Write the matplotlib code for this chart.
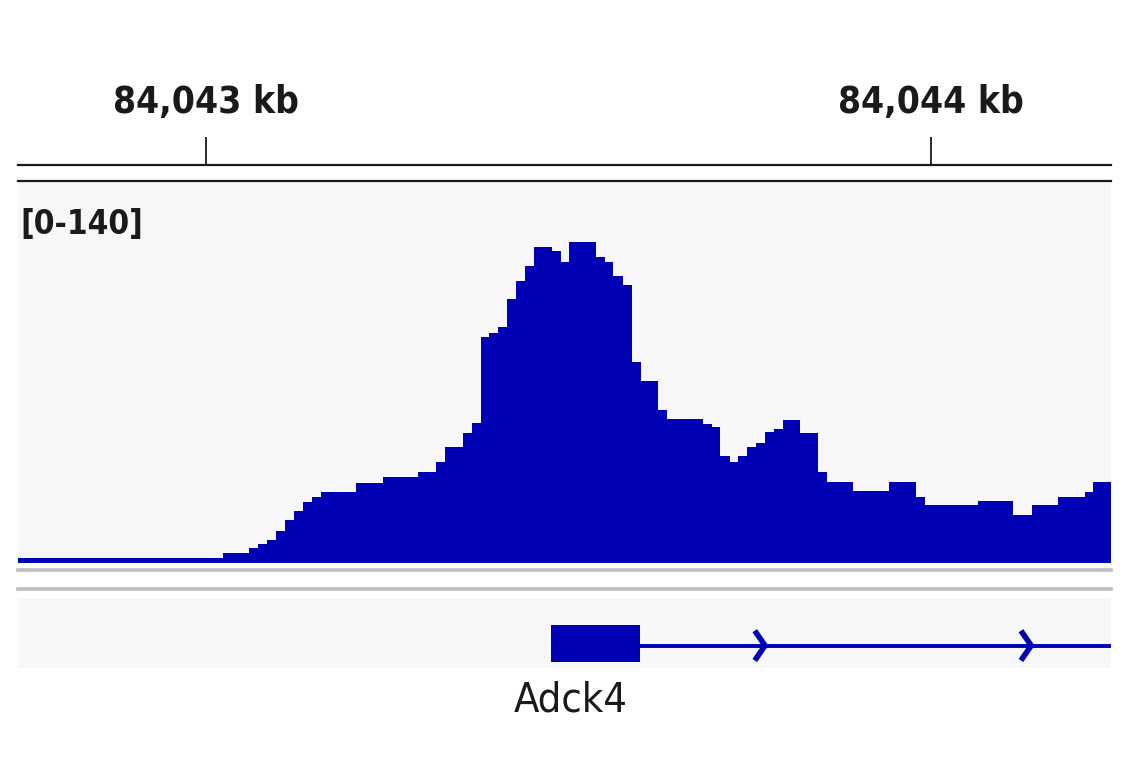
import matplotlib
matplotlib.use("Agg")
import matplotlib.pyplot as plt
from matplotlib import font_manager as fm
from matplotlib.lines import Line2D
from matplotlib.patches import Rectangle

# координаты в п.н. относительно 84,043 kb
view_start = -259
view_end = 1248

# границы бинов и значения сигнала (шкала [0-140])
bin_edges = [-259, 23, 59, 72, 84, 97, 109, 121, 134, 146, 159, 207, 244, 292,
             317, 330, 354, 367, 379, 390, 403, 415, 428, 440, 452, 477, 490,
             501, 538, 550, 561, 575, 588, 600, 623, 636, 686, 698, 709, 723,
             734, 746, 759, 771, 783, 796, 819, 844, 857, 892, 942, 979, 992,
             1065, 1113, 1139, 1175, 1212, 1223, 1248]
signal = [1.8, 3.7, 5.5, 7.0, 8.5, 11.8, 15.8, 19.1, 22.4, 24.3, 26.1, 29.4,
          31.6, 33.4, 36.8, 42.3, 47.4, 51.1, 82.7, 84.2, 86.4, 96.7, 103.3,
          108.8, 115.8, 114.3, 110.3, 117.6, 112.1, 110.3, 105.1, 101.8, 73.5,
          66.5, 55.9, 52.6, 50.7, 49.6, 39.0, 37.1, 39.0, 42.3, 44.1, 47.8,
          49.2, 52.2, 47.4, 33.4, 29.8, 26.5, 29.8, 24.3, 21.3, 22.8, 17.6,
          21.3, 24.3, 26.1, 29.8]
data_range = (0, 140)

ruler_ticks = [0, 1000]
ruler_labels = ["84,043 kb", "84,044 kb"]

gene_name = "Adck4"
exon = (476, 599)
gene_end = 5000
strand_arrows = [771, 1138]

blue = "#0000b4"
track_bg = "#f7f7f9"
ink = "#1a1a1a"
W, H = 1141, 768


# ищем узкий шрифт (в оригинале Helvetica Condensed), отдельно для жирного
def weight_num(w):
    return w if isinstance(w, (int, float)) else fm.weight_dict.get(str(w), 400)


narrow_fonts = {}
for f in fm.fontManager.ttflist:
    nm = f.name.lower()
    if 'narrow' in nm or 'condensed' in nm or str(f.stretch) in ('condensed', 'semi-condensed'):
        narrow_fonts.setdefault(f.name, set()).add(weight_num(f.weight))

bold_family = next((n for n, ws in narrow_fonts.items() if max(ws) >= 600), None)
regular_family = next((n for n, ws in narrow_fonts.items() if min(ws) <= 500), None)
bold_stretch = 'condensed' if bold_family else 'normal'
reg_stretch = 'condensed' if regular_family else 'normal'
bold_family = [bold_family or 'Liberation Sans', 'DejaVu Sans']
regular_family = [regular_family or 'Liberation Sans', 'DejaVu Sans']

fig = plt.figure(figsize=(W / 100, H / 100), dpi=100)
fig.patch.set_facecolor("white")
renderer = fig.canvas.get_renderer()


def box(top, bottom, left=18, right=1111):
    return [left / W, 1 - bottom / H, (right - left) / W, (bottom - top) / H]


def fit(t, width_px):
    # подгоняем размер шрифта под ширину надписи в оригинале
    w = t.get_window_extent(renderer).width
    t.set_fontsize(t.get_fontsize() * width_px / w)


# линейка
ax_r = fig.add_axes(box(60, 165))
ax_r.set_xlim(view_start, view_end)
ax_r.set_ylim(0, 1)
for s in ['top', 'left', 'right']:
    ax_r.spines[s].set_visible(False)
ax_r.spines['bottom'].set_linewidth(1.6)
ax_r.spines['bottom'].set_color(ink)
ax_r.set_xticks(ruler_ticks)
ax_r.set_xticklabels([])
ax_r.tick_params(axis='x', direction='in', length=20, width=1.3, color=ink)
ax_r.set_yticks([])
ax_r.patch.set_alpha(0)
for t, lab in zip(ruler_ticks, ruler_labels):
    txt = ax_r.text(t, 0.6, lab, ha='center', va='center', fontsize=35,
                    family=bold_family, fontweight='bold', fontstretch=bold_stretch,
                    color=ink)
    fit(txt, 186)

# трек сигнала
ax = fig.add_axes(box(180.5, 563))
ax.set_facecolor(track_bg)
ax.stairs(signal, bin_edges, fill=True, color=blue, baseline=0)
ax.set_xlim(view_start, view_end)
ax.set_ylim(*data_range)
for s in ['bottom', 'left', 'right']:
    ax.spines[s].set_visible(False)
ax.spines['top'].set_linewidth(1.6)
ax.spines['top'].set_color(ink)
ax.set_xticks([])
ax.set_yticks([])
rng = ax.text(0.002, 0.885, f"[{data_range[0]}-{data_range[1]}]", transform=ax.transAxes,
              ha='left', va='center', fontsize=31, family=bold_family,
              fontweight='bold', fontstretch=bold_stretch, color=ink)
fit(rng, 123)

# серые разделители
for ypx in (569.5, 589):
    fig.add_artist(Line2D([18 / W, 1111 / W], [1 - ypx / H] * 2,
                          transform=fig.transFigure, color="#bdbdbd", lw=2.6))

# трек генов
ax_g = fig.add_axes(box(598, 668))
ax_g.set_facecolor(track_bg)
ax_g.set_xlim(view_start, view_end)
ax_g.set_ylim(0, 1)
ax_g.axis('off')
ax_g.add_patch(Rectangle((view_start, 0), view_end - view_start, 1,
                         facecolor=track_bg, edgecolor='none'))
ax_g.add_patch(Rectangle((exon[0], 0.08), exon[1] - exon[0], 0.54,
                         facecolor=blue, edgecolor='none'))
ax_g.plot([exon[1], gene_end], [0.32, 0.32], color=blue, lw=2.8)
for p in strand_arrows:
    ax_g.plot([p - 12, p, p - 12], [0.5, 0.32, 0.14], color=blue, lw=4,
              solid_joinstyle='miter')

gl = fig.text(570.5 / W, 1 - 700 / H, gene_name, ha='center', va='center',
              fontsize=35, family=regular_family, fontstretch=reg_stretch, color=ink)
fit(gl, 114)

fig.savefig("out.png", dpi=100)
